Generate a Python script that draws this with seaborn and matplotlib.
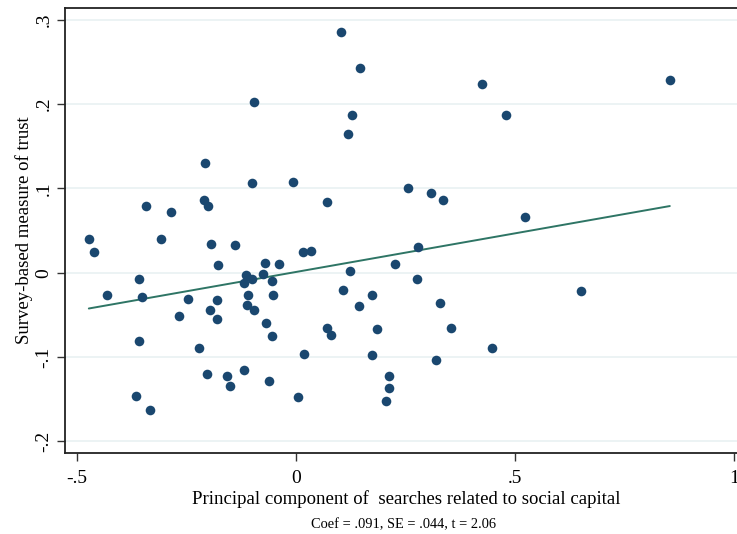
import numpy as np
import pandas as pd
import matplotlib
matplotlib.use("Agg")
import matplotlib.pyplot as plt
import seaborn as sns

# principal component of searches related to social capital
pc_search = [0.103, 0.146, -0.095, 0.129, 0.119, -0.207, -0.101, -0.006, -0.210, -0.200,
             -0.342, -0.286, 0.070, -0.473, -0.461, -0.307, -0.194, -0.138, 0.017, 0.035,
             -0.177, -0.071, -0.038, 0.424, 0.854, 0.480, 0.256, 0.308, 0.335, 0.523,
             0.279, 0.226, -0.432, -0.358, -0.352, -0.358, -0.366, -0.333, -0.266, -0.247,
             -0.221, -0.204, -0.197, -0.180, -0.180, -0.158, -0.151, -0.118, -0.114, -0.118,
             -0.100, -0.109, -0.112, -0.095, -0.075, -0.055, -0.052, -0.068, -0.055, -0.062,
             0.005, 0.018, 0.071, 0.080, 0.107, 0.123, 0.143, 0.276, 0.173, 0.328,
             0.652, 0.186, 0.355, 0.173, 0.319, 0.447, 0.213, 0.213, 0.206]
# survey-based measure of trust
trust = [0.286, 0.243, 0.203, 0.187, 0.165, 0.130, 0.107, 0.108, 0.086, 0.079,
         0.079, 0.072, 0.084, 0.040, 0.025, 0.040, 0.034, 0.033, 0.025, 0.026,
         0.009, 0.012, 0.010, 0.224, 0.229, 0.187, 0.100, 0.095, 0.086, 0.066,
         0.031, 0.010, -0.027, -0.007, -0.029, -0.081, -0.146, -0.163, -0.051, -0.031,
         -0.089, -0.120, -0.044, -0.032, -0.055, -0.123, -0.134, -0.115, -0.003, -0.012,
         -0.008, -0.027, -0.038, -0.044, -0.002, -0.010, -0.027, -0.060, -0.075, -0.128,
         -0.147, -0.096, -0.065, -0.074, -0.020, 0.002, -0.039, -0.007, -0.026, -0.036,
         -0.022, -0.067, -0.065, -0.098, -0.103, -0.089, -0.123, -0.137, -0.152]

xticks = [-0.5, 0, 0.5, 1]
xticklabels = ["-.5", "0", ".5", "1"]
yticks = [-0.2, -0.1, 0, 0.1, 0.2, 0.3]
yticklabels = ["-.2", "-.1", "0", ".1", ".2", ".3"]

df = pd.DataFrame({"pc": pc_search, "trust": trust})

sns.set_style("white")
plt.rcParams["font.family"] = ["Liberation Serif", "DejaVu Serif"]
plt.rcParams.update({"text.color": "black", "axes.labelcolor": "black",
                     "xtick.color": "black", "ytick.color": "black"})

fig = plt.figure(figsize=(7.37, 5.34), dpi=100)
ax = fig.add_axes([0.0882, 0.1511, 0.925, 0.8345])

sns.scatterplot(data=df, x="pc", y="trust", ax=ax, color="#1a476f",
                s=48, linewidth=0, zorder=3)
sns.regplot(data=df, x="pc", y="trust", ax=ax, scatter=False, ci=None,
            color="#2e7565", line_kws={"linewidth": 1.4}, truncate=True)

ax.set_xlim(-0.5274, 1.0297)
ax.set_ylim(-0.2142, 0.3144)
ax.set_xticks(xticks)
ax.set_xticklabels(xticklabels)
ax.set_yticks(yticks)
ax.set_yticklabels(yticklabels, rotation=90, va="center")
ax.tick_params(axis="both", direction="out", length=6, width=1,
               color="#333333", labelsize=14, bottom=True, left=True)
ax.tick_params(axis="x", pad=6)
ax.tick_params(axis="y", pad=3)

for y in yticks:
    ax.axhline(y, color="#eaf2f3", linewidth=1.3, zorder=0)

for side in ["left", "bottom", "top"]:
    ax.spines[side].set_color("#222222")
    ax.spines[side].set_linewidth(1.3)
ax.spines["right"].set_visible(False)

ax.set_xlabel("Principal component of  searches related to social capital",
              fontsize=13.5, labelpad=2)
ax.set_ylabel("Survey-based measure of trust", fontsize=13.5, labelpad=2)

fig.text(0.548, 0.011, "Coef = .091, SE = .044, t = 2.06", ha="center",
         va="baseline", fontsize=10.4)

fig.savefig("out.png", dpi=100)
